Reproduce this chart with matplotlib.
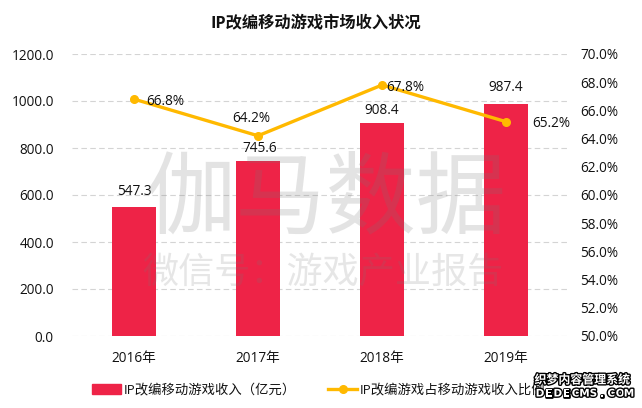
import matplotlib
matplotlib.use("Agg")
import matplotlib.pyplot as plt
import matplotlib.patheffects as pe
from matplotlib.lines import Line2D
from matplotlib.patches import Patch

plt.rcParams['font.family'] = ['Open Sans', 'Noto Sans CJK SC', 'DejaVu Sans']

years = ['2016年', '2017年', '2018年', '2019年']
revenue = [547.3, 745.6, 908.4, 987.4]
share = [66.8, 64.2, 67.8, 65.2]
rev_labels = ['547.3', '745.6', '908.4', '987.4']
share_labels = ['66.8%', '64.2%', '67.8%', '65.2%']
left_ticks = [0, 200, 400, 600, 800, 1000, 1200]
right_ticks = [50, 52, 54, 56, 58, 60, 62, 64, 66, 68, 70]
title = 'IP改编移动游戏市场收入状况'
legend_bar = 'IP改编移动游戏收入（亿元）'
legend_line = 'IP改编游戏占移动游戏收入比例'
wm_main = '伽马数据'
wm_sub = '微信号：游戏产业报告'
badge_top = '织梦内容管理系统'
badge_bottom = 'DEDECMS.COM'

W, H = 642, 408
fig = plt.figure(figsize=(W / 100, H / 100), dpi=100, facecolor='white')
ax = fig.add_axes([72 / W, 1 - 336 / H, 496 / W, 282 / H])
x = list(range(len(years)))
ax.set_xlim(-0.5, 3.5)
ax.set_ylim(0, 1200)
ax.set_axisbelow(True)
ax.grid(axis='y', color='#d4d4d4', lw=0.8, ls=(0, (5, 3)))
ax.bar(x, revenue, width=0.355, color='#EE2347', zorder=2)
ax.set_xticks(x, years, fontsize=9.8, color='#111111')
ax.set_yticks(left_ticks, [f'{v:.1f}' for v in left_ticks], fontsize=9.8, color='#111111')
ax.tick_params(length=0)
ax.tick_params(axis='x', pad=11)
ax.tick_params(axis='y', pad=13)
for s in ax.spines.values():
    s.set_visible(False)

ax2 = ax.twinx()
ax2.set_ylim(50, 70)
ax2.set_yticks(right_ticks, [f'{v:.1f}%' for v in right_ticks], fontsize=9.8, color='#111111')
ax2.tick_params(length=0, pad=9)
for s in ax2.spines.values():
    s.set_visible(False)
ax2.plot(x, share, color='#FFB900', lw=2.4, marker='o', ms=5.5, zorder=3)

# data labels: pixel offsets from the marks
rev_off = [(0, 8), (2, 5), (0, 5), (0, 9)]
for xi, v, t, off in zip(x, revenue, rev_labels, rev_off):
    ax.annotate(t, (xi, v), xytext=off, textcoords='offset pixels', ha='center', va='bottom',
                fontsize=9.8, color='#111111', zorder=5)
share_off = [(31, -2), (-7, 17), (23, -2), (45, -2)]
for xi, v, t, off in zip(x, share, share_labels, share_off):
    ax2.annotate(t, (xi, v), xytext=off, textcoords='offset pixels', ha='center', va='center',
                 fontsize=9.8, color='#111111', zorder=5)

fig.text(316 / W, 1 - 24 / H, title, ha='center', va='center', fontsize=11.7,
         fontweight='bold', color='#111111')

handles = [Patch(color='#EE2347'),
           Line2D([], [], color='#FFB900', lw=2.4, marker='o', ms=5.5)]
fig.legend(handles, [legend_bar, legend_line], ncol=2, frameon=False, fontsize=9.6,
           loc='center left', bbox_to_anchor=(80 / W, 1 - 390 / H), handlelength=2.15,
           handleheight=0.7, handletextpad=0.2, columnspacing=2.45, labelcolor='#111111')

fig.text(326 / W, 1 - 203 / H, wm_main, ha='center', va='center', fontsize=65,
         color='#777777', alpha=0.2, zorder=10)
fig.text(323 / W, 1 - 274 / H, wm_sub, ha='center', va='center', fontsize=26,
         color='#777777', alpha=0.18, zorder=10)

stroke = [pe.withStroke(linewidth=2.0, foreground='black')]
fig.text(582 / W, 1 - 380 / H, badge_top, ha='center', va='center', fontsize=8.6, color='white',
         fontweight='bold', path_effects=stroke, zorder=11)
for i, ch in enumerate(badge_bottom):
    fig.text((540 + i * 8.9) / W, 1 - 393.5 / H, ch, ha='center', va='center', fontsize=7.5,
             color='white', fontweight='bold', path_effects=stroke, zorder=11,
             family='DejaVu Sans')

fig.savefig('out.png', dpi=100)
